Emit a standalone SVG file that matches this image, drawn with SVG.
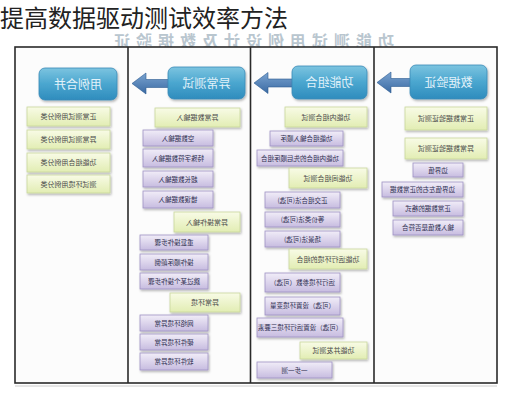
<svg xmlns="http://www.w3.org/2000/svg" width="508" height="400" viewBox="0 0 508 400">
<defs>
<linearGradient id="gHead" x1="0" y1="0" x2="0" y2="1"><stop offset="0" stop-color="#7cc4e0"/><stop offset="0.5" stop-color="#4aa6cf"/><stop offset="1" stop-color="#2f8cbd"/></linearGradient>
<linearGradient id="gGreen" x1="0" y1="0" x2="0" y2="1"><stop offset="0" stop-color="#f8fbe6"/><stop offset="1" stop-color="#e2edb3"/></linearGradient>
<linearGradient id="gPurple" x1="0" y1="0" x2="0" y2="1"><stop offset="0" stop-color="#f1edf8"/><stop offset="1" stop-color="#c7bce0"/></linearGradient>
<linearGradient id="gArrow" x1="0" y1="0" x2="0" y2="1"><stop offset="0" stop-color="#7aa3d0"/><stop offset="1" stop-color="#3a6aa3"/></linearGradient>
<filter id="sh" x="-10%" y="-20%" width="125%" height="150%"><feDropShadow dx="1" dy="1.5" stdDeviation="0.8" flood-color="#000" flood-opacity="0.3"/></filter>
</defs>
<style>
.frame{fill:#fcfcfc;stroke:#2a2a2a;stroke-width:1.6}
.head{fill:url(#gHead);stroke:#3a8ab8;stroke-width:0.8;filter:url(#sh)}
.green{fill:url(#gGreen);stroke:#c9d79c;stroke-width:0.8;filter:url(#sh)}
.purple{fill:url(#gPurple);stroke:#9e92c4;stroke-width:0.8;filter:url(#sh)}
.arrow{fill:url(#gArrow);stroke:#2c5a90;stroke-width:0.6}
text{font-family:"Noto Sans CJK SC","Noto Sans",sans-serif}
.ht{fill:#e2f2fa;font-size:12px;text-anchor:middle}
.bt{fill:#4a4a4a;font-size:7px;text-anchor:middle}
.pt{fill:#2e2e50;font-size:6.5px;text-anchor:middle}
.title{fill:#222;font-size:24px}
.fade{fill:#b9c6cf;font-size:16px;font-weight:bold;text-anchor:middle;letter-spacing:6px}
</style>
<rect width="508" height="400" fill="#ffffff"/>
<g id="title"><text class="title" x="0" y="27">提高数据驱动测试效率方法</text></g>
<g id="faded-header"><text class="fade" transform="translate(251,47) scale(-1,1)">功能测试用例设计及数据验证</text></g>
<g id="frame">
<rect class="frame" x="15" y="47" width="482" height="336"/>
<line x1="128" y1="47" x2="128" y2="383" stroke="#2a2a2a" stroke-width="1.6"/>
<line x1="250.5" y1="47" x2="250.5" y2="383" stroke="#2a2a2a" stroke-width="1.6"/>
<line x1="374" y1="47" x2="374" y2="383" stroke="#2a2a2a" stroke-width="1.6"/>
<line x1="15" y1="386" x2="497" y2="386" stroke="#cccccc" stroke-width="1"/>
</g>
<g id="connectors">
<path class="arrow" d="M132,83.5 L146,73 L146,79.5 L170,79.5 L170,87.5 L146,87.5 L146,94 Z"/>
<path class="arrow" d="M254,83 L268,72.5 L268,79 L294,79 L294,87 L268,87 L268,93.5 Z"/>
<path class="arrow" d="M377,82.5 L391,72 L391,78.5 L412,78.5 L412,86.5 L391,86.5 L391,93 Z"/>
</g>
<g id="col1">
<g id="c1-head"><rect class="head" x="39" y="68" width="78" height="32" rx="6"/><text class="ht" transform="translate(78,88.5) scale(-1,1)">用例合并</text></g>
<g id="c1-b1"><rect class="green" x="27" y="107" width="83" height="19"/><text class="bt" transform="translate(68.5,119) scale(-1,1)">正常测试用例分类</text></g>
<g id="c1-b2"><rect class="green" x="27" y="130" width="83" height="19"/><text class="bt" transform="translate(68.5,142) scale(-1,1)">异常测试用例分类</text></g>
<g id="c1-b3"><rect class="green" x="27" y="153" width="83" height="19"/><text class="bt" transform="translate(68.5,165) scale(-1,1)">功能组合用例分类</text></g>
<g id="c1-b4"><rect class="green" x="27" y="175" width="83" height="18"/><text class="bt" transform="translate(68.5,186.5) scale(-1,1)">测试环境用例分类</text></g>
</g>
<g id="col2">
<g id="c2-head"><rect class="head" x="168" y="67" width="77" height="32" rx="6"/><text class="ht" transform="translate(206.5,87.5) scale(-1,1)">异常测试</text></g>
<g id="c2-g1"><rect class="green" x="155" y="108" width="85" height="19"/><text class="bt" transform="translate(197.5,120) scale(-1,1)">异常数据输入</text></g>
<g id="c2-p1"><rect class="purple" x="143" y="130" width="70" height="16"/><text class="pt" transform="translate(178,140.5) scale(-1,1)">空数据输入</text></g>
<g id="c2-p2"><rect class="purple" x="143" y="149" width="70" height="18"/><text class="pt" transform="translate(178,160.5) scale(-1,1)">特殊字符数据输入</text></g>
<g id="c2-p3"><rect class="purple" x="143" y="171" width="70" height="16"/><text class="pt" transform="translate(178,181.5) scale(-1,1)">超长数据输入</text></g>
<g id="c2-p4"><rect class="purple" x="143" y="191" width="70" height="17"/><text class="pt" transform="translate(178,202) scale(-1,1)">错误数据输入</text></g>
<g id="c2-g2"><rect class="green" x="174" y="212" width="66" height="20"/><text class="bt" transform="translate(207,224.5) scale(-1,1)">异常操作输入</text></g>
<g id="c2-p5"><rect class="purple" x="140" y="235" width="68" height="15"/><text class="pt" transform="translate(174,245) scale(-1,1)">重复操作步骤</text></g>
<g id="c2-p6"><rect class="purple" x="140" y="254" width="68" height="16"/><text class="pt" transform="translate(174,264.5) scale(-1,1)">操作顺序颠倒</text></g>
<g id="c2-p7"><rect class="purple" x="140" y="273" width="68" height="16"/><text class="pt" transform="translate(174,283.5) scale(-1,1)">跳过某个操作步骤</text></g>
<g id="c2-g3"><rect class="green" x="170" y="293" width="70" height="19"/><text class="bt" transform="translate(205,305) scale(-1,1)">异常环境</text></g>
<g id="c2-p8"><rect class="purple" x="140" y="315" width="68" height="16"/><text class="pt" transform="translate(174,325.5) scale(-1,1)">网络环境异常</text></g>
<g id="c2-p9"><rect class="purple" x="140" y="334" width="68" height="16"/><text class="pt" transform="translate(174,344.5) scale(-1,1)">硬件环境异常</text></g>
<g id="c2-p10"><rect class="purple" x="140" y="353" width="68" height="17"/><text class="pt" transform="translate(174,364) scale(-1,1)">软件环境异常</text></g>
</g>
<g id="col3">
<g id="c3-head"><rect class="head" x="292" y="66" width="75" height="33" rx="6"/><text class="ht" transform="translate(329.5,87) scale(-1,1)">功能组合</text></g>
<g id="c3-g1"><rect class="green" x="285" y="107" width="82" height="20"/><text class="bt" transform="translate(326,119.5) scale(-1,1)">功能内组合测试</text></g>
<g id="c3-p1"><rect class="purple" x="270" y="131" width="73" height="15"/><text class="pt" transform="translate(306.5,141) scale(-1,1)">功能组合输入顺序</text></g>
<g id="c3-p2"><rect class="purple" x="257" y="150" width="86" height="16"/><text class="pt" transform="translate(300,160.5) scale(-1,1)">功能内组合的先后顺序组合</text></g>
<g id="c3-g2"><rect class="green" x="289" y="168" width="78" height="20"/><text class="bt" transform="translate(328,180.5) scale(-1,1)">功能间组合测试</text></g>
<g id="c3-p3"><rect class="purple" x="265" y="192" width="75" height="16"/><text class="pt" transform="translate(302.5,202.5) scale(-1,1)">正交组合法(可选)</text></g>
<g id="c3-p4"><rect class="purple" x="265" y="212" width="75" height="15"/><text class="pt" transform="translate(302.5,222) scale(-1,1)">等价类法(可选)</text></g>
<g id="c3-p5"><rect class="purple" x="265" y="231" width="75" height="16"/><text class="pt" transform="translate(302.5,241.5) scale(-1,1)">场景法(可选)</text></g>
<g id="c3-g3"><rect class="green" x="289" y="249" width="78" height="20"/><text class="bt" transform="translate(328,261.5) scale(-1,1)">功能运行环境的组合</text></g>
<g id="c3-p6"><rect class="purple" x="265" y="273" width="75" height="19"/><text class="pt" transform="translate(302.5,284.5) scale(-1,1)">运行环境参数（可选）</text></g>
<g id="c3-p7"><rect class="purple" x="265" y="297" width="75" height="18"/><text class="pt" transform="translate(302.5,308) scale(-1,1)">（可选）设置环境变量</text></g>
<g id="c3-p8"><rect class="purple" x="257" y="318" width="86" height="19"/><text class="pt" transform="translate(300,329.5) scale(-1,1)">（可选）设置运行环境三要素</text></g>
<g id="c3-g4"><rect class="green" x="300" y="342" width="67" height="17"/><text class="bt" transform="translate(333.5,353) scale(-1,1)">功能并发测试</text></g>
<g id="c3-p9"><rect class="purple" x="257" y="362" width="75" height="16"/><text class="pt" transform="translate(294.5,372.5) scale(-1,1)">一步一测</text></g>
</g>
<g id="col4">
<g id="c4-head"><rect class="head" x="410" y="65" width="77" height="34" rx="6"/><text class="ht" transform="translate(448.5,86.5) scale(-1,1)">数据验证</text></g>
<g id="c4-g1"><rect class="green" x="405" y="107" width="82" height="23"/><text class="bt" transform="translate(446,121) scale(-1,1)">正常数据验证测试</text></g>
<g id="c4-g2"><rect class="green" x="405" y="138" width="82" height="21"/><text class="bt" transform="translate(446,151) scale(-1,1)">异常数据验证测试</text></g>
<g id="c4-p1"><rect class="purple" x="413" y="163" width="50" height="14"/><text class="pt" transform="translate(438,172.5) scale(-1,1)">边界值</text></g>
<g id="c4-p2"><rect class="purple" x="382" y="182" width="81" height="15"/><text class="pt" transform="translate(422.5,192) scale(-1,1)">边界值左右的正常数据</text></g>
<g id="c4-p3"><rect class="purple" x="393" y="201" width="70" height="15"/><text class="pt" transform="translate(428,211) scale(-1,1)">正常数据的格式</text></g>
<g id="c4-p4"><rect class="purple" x="393" y="220" width="70" height="15"/><text class="pt" transform="translate(428,230) scale(-1,1)">输入数值是否符合</text></g>
</g>
</svg>
